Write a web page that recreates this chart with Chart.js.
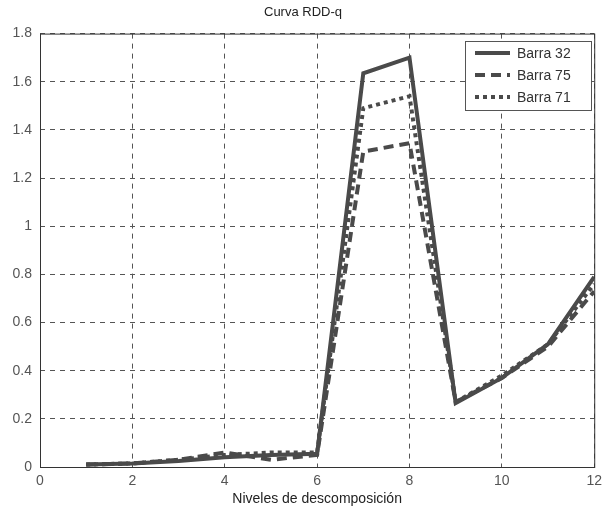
<!DOCTYPE html>
<html><head><meta charset="utf-8">
<script src="https://cdn.jsdelivr.net/npm/chart.js@4"></script>
<style>html,body{margin:0;padding:0;background:#fff}#w{width:608px;height:512px}</style>
</head><body><div id="w"><canvas id="c" width="608" height="512"></canvas></div>
<script>
const levels = [1,2,3,4,5,6,7,8,9,10,11,12];
const barra32 = [0.01,0.015,0.025,0.04,0.05,0.055,1.635,1.70,0.265,0.37,0.51,0.79];
const barra75 = [0.01,0.015,0.03,0.06,0.03,0.05,1.31,1.345,0.27,0.37,0.50,0.73];
const barra71 = [0.01,0.015,0.03,0.05,0.06,0.06,1.49,1.54,0.27,0.38,0.51,0.76];
const xTicks = [0,2,4,6,8,10,12];
const yTicks = [0,0.2,0.4,0.6,0.8,1,1.2,1.4,1.6,1.8];
const seriesNames = ['Barra 32','Barra 75','Barra 71'];

const lineColor = '#4a4a4a';
const FONT = 'Liberation Sans, Arial, sans-serif';
function pts(arr){ return levels.map((x,i)=>({x:x,y:arr[i]})); }

const frameLegend = {
  id:'frameLegend',
  afterDraw(chart){
    const {ctx, chartArea:a} = chart;
    ctx.save();
    ctx.strokeStyle = '#333'; ctx.lineWidth = 1; ctx.setLineDash([]);
    ctx.strokeRect(a.left+0.5, a.top+0.5, a.right-a.left, a.bottom-a.top);
    const bx = 465, by = 41, bw = 126, bh = 69;
    ctx.fillStyle = '#fff';
    ctx.fillRect(bx,by,bw,bh);
    ctx.strokeStyle = '#555';
    ctx.strokeRect(bx+0.5,by+0.5,bw,bh);
    ctx.font = '14px ' + FONT;
    ctx.textBaseline = 'middle';
    chart.data.datasets.forEach((ds,i)=>{
      const y = by + 12 + i*22;
      ctx.strokeStyle = ds.borderColor; ctx.lineWidth = ds.borderWidth;
      ctx.setLineDash(ds.borderDash || []);
      ctx.lineCap = 'butt';
      ctx.beginPath(); ctx.moveTo(bx+10, y); ctx.lineTo(bx+45, y); ctx.stroke();
      ctx.setLineDash([]);
      ctx.fillStyle = '#333';
      ctx.fillText(ds.label, bx+52, y+1);
    });
    ctx.restore();
  }
};

new Chart(document.getElementById('c'), {
  type:'line',
  data:{ datasets:[
    {label:seriesNames[0], data:pts(barra32), borderColor:lineColor, borderWidth:4, pointRadius:0, tension:0, fill:false},
    {label:seriesNames[1], data:pts(barra75), borderColor:lineColor, borderWidth:4, borderDash:[10,6], pointRadius:0, tension:0, fill:false},
    {label:seriesNames[2], data:pts(barra71), borderColor:lineColor, borderWidth:4, borderDash:[4,4], pointRadius:0, tension:0, fill:false}
  ]},
  options:{
    responsive:false, animation:false, devicePixelRatio:1,
    layout:{padding:{left:0,right:2,top:0,bottom:4}},
    plugins:{
      legend:{display:false}, tooltip:{enabled:false},
      title:{display:true, text:'Curva RDD-q', color:'#222', font:{family:FONT,size:13,weight:'normal'}, padding:{top:5,bottom:13}}
    },
    scales:{
      x:{type:'linear', min:0, max:12,
        afterBuildTicks(s){ s.ticks = xTicks.map(v=>({value:v})); },
        afterFit(s){ s.height = 41; },
        grid:{color:'#555', lineWidth:1, drawTicks:false},
        border:{display:false, dash:[5,5]},
        ticks:{color:'#555', font:{family:FONT,size:14}, padding:6, maxRotation:0},
        title:{display:true, text:'Niveles de descomposición', color:'#222', font:{family:FONT,size:14}, padding:{top:3,bottom:0}}
      },
      y:{type:'linear', min:0, max:1.8,
        afterBuildTicks(s){ s.ticks = yTicks.map(v=>({value:v})); },
        afterFit(s){ s.width = 40; },
        grid:{color:'#555', lineWidth:1, drawTicks:false},
        border:{display:false, dash:[5,5]},
        ticks:{color:'#555', font:{family:FONT,size:14}, padding:8, callback:(v)=>String(Math.round(v*10)/10)}
      }
    }
  },
  plugins:[frameLegend]
});
</script></body></html>
